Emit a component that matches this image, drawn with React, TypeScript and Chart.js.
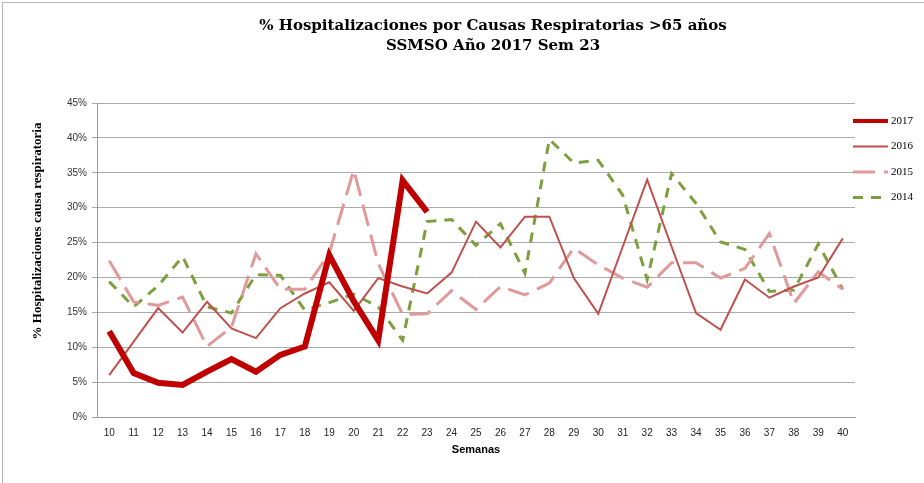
import React, { useEffect, useRef } from "react";
import { Chart, registerables } from "chart.js";

Chart.register(...registerables);

const weeks = ["10","11","12","13","14","15","16","17","18","19","20","21","22","23","24","25","26","27","28","29","30","31","32","33","34","35","36","37","38","39","40"];

const y2017 = [12.3, 6.3, 4.9, 4.6, 6.5, 8.3, 6.5, 8.9, 10.1, 23.2, 16.6, 11.0, 33.9, 29.4, null, null, null, null, null, null, null, null, null, null, null, null, null, null, null, null, null];
const y2016 = [6.0, 10.8, 15.6, 12.1, 16.5, 12.7, 11.3, 15.6, 17.7, 19.3, 15.2, 19.9, 18.7, 17.7, 20.7, 28.0, 24.3, 28.7, 28.7, 19.9, 14.8, 24.4, 34.0, 24.4, 14.9, 12.5, 19.7, 17.1, 18.7, 20.0, 25.6];
const y2015 = [22.4, 16.5, 16.0, 17.2, 10.1, 12.9, 23.4, 18.3, 18.3, 23.5, 35.4, 22.0, 14.7, 14.8, 18.1, 15.4, 18.7, 17.5, 19.2, 24.2, 21.8, 19.9, 18.6, 22.1, 22.1, 19.9, 21.3, 26.3, 16.3, 20.8, 18.3];
const y2014 = [19.4, 15.8, 18.8, 23.0, 15.8, 14.9, 20.4, 20.3, 15.3, 16.4, 17.6, 15.8, 11.0, 28.0, 28.3, 24.6, 27.7, 20.6, 39.8, 36.4, 36.8, 31.8, 19.7, 34.9, 30.6, 25.1, 24.0, 18.0, 18.2, 24.8, 18.3];

const seriesLabels = ["2017", "2016", "2015", "2014"];
const titleLines = ["% Hospitalizaciones por Causas Respiratorias >65 años", "SSMSO Año 2017 Sem 23"];
const yTitle = "% Hospitalizaciones causa respiratoria";
const xTitle = "Semanas";

const SERIF = "'Liberation Serif', 'DejaVu Serif', serif";
const TITLE_SERIF = "'DejaVu Serif', 'Liberation Serif', serif";
const NARROW = "'Liberation Sans Narrow', 'Liberation Sans', Arial, sans-serif";

const textPlugin = {
  id: "customTexts",
  afterDraw(chart: any) {
    const ctx = chart.ctx;
    const area = chart.chartArea;
    ctx.save();
    // title
    ctx.fillStyle = "#000";
    ctx.textAlign = "center";
    ctx.textBaseline = "middle";
    ctx.font = "bold 15px " + TITLE_SERIF;
    titleLines.forEach((t, i) => ctx.fillText(t, 493, 26 + i * 20));
    // y axis title
    ctx.save();
    ctx.translate(38, 231);
    ctx.rotate(-Math.PI / 2);
    ctx.font = "bold 13px " + SERIF;
    ctx.fillText(yTitle, 0, 0);
    ctx.restore();
    // legend
    const x0 = area.right - 2;
    const len = 35;
    const y0 = 121;
    const step = 25.5;
    chart.data.datasets.forEach((ds: any, i: number) => {
      const y = y0 + i * step;
      ctx.beginPath();
      ctx.strokeStyle = ds.borderColor;
      ctx.lineWidth = ds.legendWidth || ds.borderWidth;
      ctx.setLineDash(ds.borderDash || []);
      ctx.moveTo(x0, y);
      ctx.lineTo(x0 + len, y);
      ctx.stroke();
      ctx.setLineDash([]);
      ctx.fillStyle = "#000";
      ctx.font = "11px " + SERIF;
      ctx.textBaseline = "middle";
      ctx.textAlign = "left";
      ctx.fillText(ds.label, x0 + len + 3, y);
    });
    ctx.restore();
  },
};

export default function App() {
  const ref = useRef<HTMLCanvasElement | null>(null);
  useEffect(() => {
    document.body.style.margin = "0";
    const chart = new Chart(ref.current as HTMLCanvasElement, {
      type: "line",
      data: {
        labels: weeks,
        datasets: [
          { label: seriesLabels[0], data: y2017, borderColor: "#C00000", borderWidth: 6, legendWidth: 4, pointRadius: 0, spanGaps: false, tension: 0 } as any,
          { label: seriesLabels[1], data: y2016, borderColor: "#C0504D", borderWidth: 2, pointRadius: 0, tension: 0 },
          { label: seriesLabels[2], data: y2015, borderColor: "#E09A9A", borderWidth: 3, borderDash: [22, 9], pointRadius: 0, tension: 0 },
          { label: seriesLabels[3], data: y2014, borderColor: "#7F9E3E", borderWidth: 3, borderDash: [10, 8], pointRadius: 0, tension: 0 },
        ],
      },
      options: {
        animation: false,
        responsive: true,
        maintainAspectRatio: false,
        layout: { padding: { left: 0, right: 69, top: 103, bottom: 0 } },
        plugins: {
          legend: { display: false },
          tooltip: { enabled: false },
          title: { display: false },
        },
        scales: {
          x: {
            offset: true,
            grid: { display: false, drawTicks: false },
            border: { display: true, color: "#999999", width: 1 },
            ticks: { color: "#222", font: { family: NARROW, size: 10 }, padding: 10, maxRotation: 0, autoSkip: false },
            title: { display: true, text: xTitle, color: "#000", font: { family: NARROW, size: 11, weight: "bold", lineHeight: 1.2 }, padding: { top: 0, bottom: 26 } },
            afterFit: (s: any) => { s.height = 66; },
          },
          y: {
            min: 0,
            max: 45,
            ticks: { stepSize: 5, color: "#333", font: { family: NARROW, size: 10 }, padding: 5, callback: (v: any) => v + "%" },
            grid: { color: "#ababab", lineWidth: 1, drawTicks: true, tickLength: 5 },
            border: { display: true, color: "#999999", width: 1 },
            title: { display: false },
            afterFit: (s: any) => { s.width = 97; },
          },
        },
      },
      plugins: [textPlugin],
    });
    return () => chart.destroy();
  }, []);
  return (
    <div style={{ position: "absolute", left: 0, top: 0, width: 924, height: 483, background: "#fff" }}>
      <div style={{ position: "absolute", left: 2, top: 2, width: 930, height: 490, borderLeft: "1px solid #b5b5b5", borderTop: "1px solid #b5b5b5" }} />
      <canvas ref={ref} style={{ position: "absolute", left: 0, top: 0 }} />
    </div>
  );
}
